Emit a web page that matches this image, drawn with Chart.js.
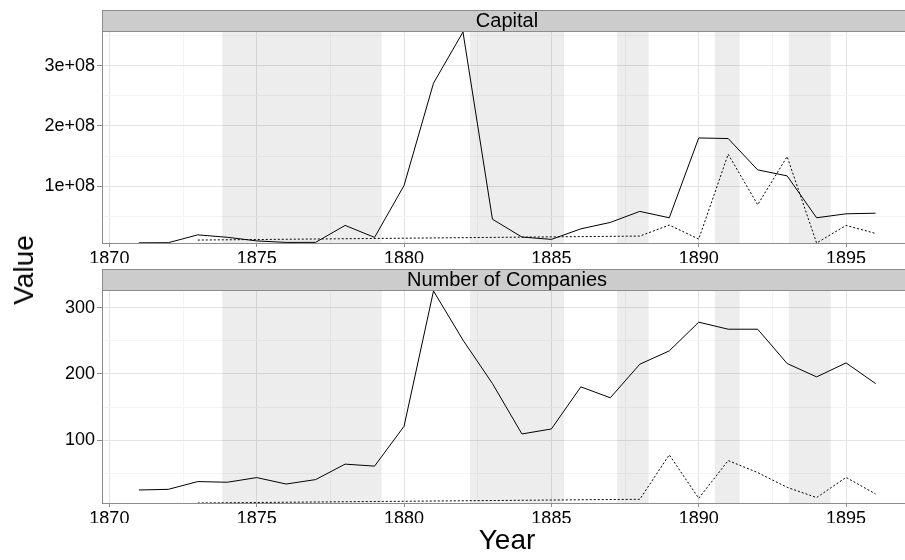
<!DOCTYPE html>
<html>
<head>
<meta charset="utf-8">
<title>Capital and Number of Companies</title>
<script src="https://cdn.jsdelivr.net/npm/chart.js@4"></script>
<style>
  body { margin: 0; background: #fff; font-family: "Liberation Sans", Arial, sans-serif; }
  #wrap { position: relative; width: 905px; height: 560px; overflow: hidden; background: #fff; }
  canvas { position: absolute; left: 0; }
  #capitalChart { top: 0; }
  #companiesChart { top: 262px; }
  .axis-title { position: absolute; font-size: 28px; line-height: 1; color: #000; white-space: nowrap; }
  #yTitle { left: 24px; top: 270px; transform: translate(-50%, -50%) rotate(-90deg); }
  #xTitle { left: 507px; top: 540px; transform: translate(-50%, -50%); }
</style>
</head>
<body>
<div id="wrap">
  <canvas id="capitalChart" width="905" height="263"></canvas>
  <canvas id="companiesChart" width="905" height="298"></canvas>
  <div class="axis-title" id="yTitle">Value</div>
  <div class="axis-title" id="xTitle">Year</div>
</div>
<script>
// Years on the x axis
const years = [1871, 1872, 1873, 1874, 1875, 1876, 1877, 1878, 1879, 1880,
	1881, 1882, 1883, 1884, 1885, 1886, 1887, 1888, 1889, 1890,
	1891, 1892, 1893, 1894, 1895, 1896];

// Capital panel - solid and dotted series (dotted only known for some years)
const capitalSolid = [5.8e6, 6.0e6, 1.9e7, 1.5e7, 9.0e6, 6.5e6, 6.6e6, 3.47e7, 1.48e7, 1.01e8,
	2.71e8, 3.56e8, 4.5e7, 1.54e7, 1.15e7, 2.9e7, 3.97e7, 5.8e7, 4.74e7, 1.80e8,
	1.79e8, 1.27e8, 1.17e8, 4.74e7, 5.4e7, 5.5e7];
const capitalDotted = [null, null, 1.04e7, null, null, null, null, null, null, null,
	null, null, null, null, null, null, null, 1.7e7, 3.53e7, 1.2e7,
	1.53e8, 6.9e7, 1.49e8, 5.5e6, 3.47e7, 2.14e7];

// Number of companies panel
const companiesSolid = [25, 26, 37.7, 36.7, 43.7, 34, 40.7, 64, 61, 121,
	325, 251, 185.5, 109.5, 117, 180.5, 164, 214.6, 234.7, 278,
	267.4, 267.4, 215.7, 195.5, 216.6, 185.5];
const companiesDotted = [null, null, 5.4, null, null, null, null, null, null, null,
	null, null, null, null, null, null, null, 11, 78, 12.5,
	69.4, 51.3, 29, 13.6, 44, 19];

// Shaded periods (start, end in years)
const recessions = [[1873.83, 1879.24], [1882.24, 1885.43], [1887.23, 1888.3], [1890.55, 1891.39], [1893.06, 1894.48]];

// Tick values and labels
const xMajorTicks = [1870, 1875, 1880, 1885, 1890, 1895];
const xTickLabels = ['1870', '1875', '1880', '1885', '1890', '1895'];
const xMinorTicks = [1872.5, 1877.5, 1882.5, 1887.5, 1892.5];
const capitalMajorTicks = [1e8, 2e8, 3e8];
const capitalTickLabels = ['1e+08', '2e+08', '3e+08'];
const capitalMinorTicks = [5e7, 1.5e8, 2.5e8, 3.5e8];
const companiesMajorTicks = [100, 200, 300];
const companiesTickLabels = ['100', '200', '300'];
const companiesMinorTicks = [50, 150, 250];

const FONT = '"Liberation Sans", Arial, sans-serif';
const MAJOR_GRID = '#e3e3e3';
const MINOR_GRID = '#f4f4f4';
const FRAME = '#8c8c8c';

// Gray strip with panel name above the plot area
const stripPlugin = {
	id: 'strip',
	afterDraw(chart, args, opts) {
		const { ctx, chartArea } = chart;
		const top = chartArea.top - 22;
		ctx.save();
		ctx.fillStyle = '#cccccc';
		ctx.fillRect(chartArea.left, top, chart.width - chartArea.left, 22);
		ctx.strokeStyle = FRAME;
		ctx.lineWidth = 1;
		ctx.strokeRect(chartArea.left + 0.5, top + 0.5, chart.width - chartArea.left, 21);
		ctx.fillStyle = '#000';
		ctx.font = '20px ' + FONT;
		ctx.textAlign = 'center';
		ctx.textBaseline = 'alphabetic';
		ctx.fillText(opts.text, 507, chartArea.top - 5);
		ctx.restore();
	}
};

// Shaded rectangles behind the lines
const recessionPlugin = {
	id: 'recessions',
	beforeDatasetsDraw(chart) {
		const { ctx, chartArea, scales: { x } } = chart;
		ctx.save();
		ctx.fillStyle = 'rgba(0, 0, 0, 0.07)';
		recessions.forEach(([a, b]) => {
			const x0 = x.getPixelForValue(a);
			const x1 = x.getPixelForValue(b);
			ctx.fillRect(x0, chartArea.top, x1 - x0, chartArea.bottom - chartArea.top);
		});
		ctx.restore();
	}
};

function toPoints(values) {
	return years.map((yr, i) => ({ x: yr, y: values[i] }));
}

function makePanel(id, title, solid, dotted, yMajor, yLabels, yMinor, padding) {
	const all = solid.concat(dotted).filter(v => v !== null);
	new Chart(document.getElementById(id), {
		type: 'line',
		data: {
			datasets: [{
				data: toPoints(solid),
				borderColor: '#000',
				borderWidth: 1,
				pointRadius: 0,
				tension: 0
			}, {
				data: toPoints(dotted),
				borderColor: '#000',
				borderWidth: 1,
				borderDash: [2, 2],
				pointRadius: 0,
				spanGaps: true,
				tension: 0
			}]
		},
		plugins: [recessionPlugin, stripPlugin],
		options: {
			responsive: false,
			animation: false,
			layout: { padding: padding },
			plugins: {
				legend: { display: false },
				tooltip: { enabled: false },
				strip: { text: title }
			},
			scales: {
				x: {
					type: 'linear',
					min: 1869.75,
					max: 1897,
					afterFit: s => { s.height = 20; },
					afterBuildTicks: s => {
						s.ticks = xMajorTicks.concat(xMinorTicks).sort((a, b) => a - b).map(v => ({ value: v }));
					},
					ticks: {
						autoSkip: false,
						maxRotation: 0,
						padding: 1,
						color: '#000',
						font: { family: FONT, size: 18 },
						callback: v => {
							const i = xMajorTicks.indexOf(v);
							return i < 0 ? '' : xTickLabels[i];
						}
					},
					grid: {
						color: c => (c.tick && xMajorTicks.includes(c.tick.value)) ? MAJOR_GRID : MINOR_GRID,
						tickColor: c => (c.tick && xMajorTicks.includes(c.tick.value)) ? FRAME : 'rgba(0,0,0,0)',
						tickLength: 4
					},
					border: { color: FRAME, width: 1 }
				},
				y: {
					min: Math.min(...all),
					max: Math.max(...all),
					afterFit: s => { s.width = 102; },
					afterBuildTicks: s => {
						s.ticks = yMajor.concat(yMinor).sort((a, b) => a - b).map(v => ({ value: v }));
					},
					ticks: {
						autoSkip: false,
						padding: 2,
						color: '#000',
						font: { family: FONT, size: 18 },
						callback: v => {
							const i = yMajor.indexOf(v);
							return i < 0 ? '' : yLabels[i];
						}
					},
					grid: {
						color: c => (c.tick && yMajor.includes(c.tick.value)) ? MAJOR_GRID : MINOR_GRID,
						tickColor: c => (c.tick && yMajor.includes(c.tick.value)) ? FRAME : 'rgba(0,0,0,0)',
						tickLength: 5
					},
					border: { color: FRAME, width: 1 }
				}
			}
		}
	});
}

makePanel('capitalChart', 'Capital', capitalSolid, capitalDotted,
	capitalMajorTicks, capitalTickLabels, capitalMinorTicks, { top: 32, bottom: 0, left: 0, right: 0 });
makePanel('companiesChart', 'Number of Companies', companiesSolid, companiesDotted,
	companiesMajorTicks, companiesTickLabels, companiesMinorTicks, { top: 29, bottom: 37, left: 0, right: 0 });
</script>
</body>
</html>
